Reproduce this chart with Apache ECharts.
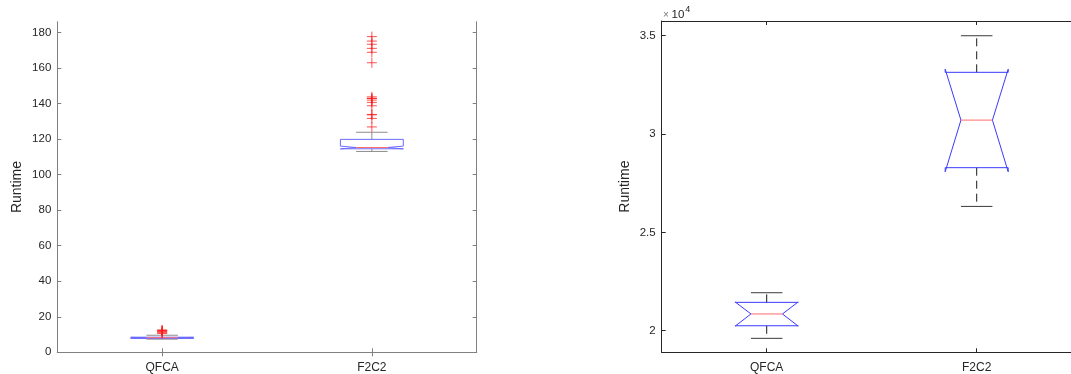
<!DOCTYPE html>
<html>
<head>
<meta charset="utf-8">
<script src="https://cdn.jsdelivr.net/npm/echarts@6/dist/echarts.min.js"></script>
<style>html,body{margin:0;padding:0;background:#fff;}#chart{width:1071px;height:374px;}</style>
</head>
<body>
<div id="chart"></div>
<script>
// ---- data ----
const categories = ['QFCA', 'F2C2'];
// box stats: [lowerWhisker, q1, notchLow, median, notchHigh, q3, upperWhisker]
const leftQFCA = [7.4, 7.8, 7.9, 8.2, 8.4, 8.5, 9.6];
const leftF2C2 = [113.0, 114.5, 114.4, 115.2, 116.0, 119.8, 123.8];
const leftQFCAOutliers = [12.6, 12.2, 12.1, 11.9, 11.5, 11.0, 10.6];
const leftF2C2Outliers = [177.6, 175.1, 173.3, 171.0, 168.8, 162.9, 143.7, 142.9, 142.8, 141.9, 140.6, 138.7, 133.8, 133.6, 131.6, 126.8];
const rightQFCA = [19610, 20250, 20230, 20850, 21460, 21440, 21930];
const rightF2C2 = [26320, 28290, 28080, 30710, 33300, 33140, 35000];
const leftTicks = [0, 20, 40, 60, 80, 100, 120, 140, 160, 180];
const rightTicks = [20000, 25000, 30000, 35000];

const FONT = 'Liberation Sans, Arial, Helvetica, sans-serif';

function makeRender(st) {
  return function (params, api) {
    const c = api.value(0);
    const v = [1, 2, 3, 4, 5, 6, 7].map(i => api.value(i));
    const [lw, q1, nlo, med, nhi, q3, uw] = v;
    const band = api.size([1, 0])[0];
    const hw = band * 0.15, nw = band * 0.075, cw = band * 0.075;
    const x = api.coord([c, med])[0];
    const Y = val => api.coord([c, val])[1];
    const xL = x - hw, xR = x + hw, xiL = x - nw, xiR = x + nw;
    const poly = [
      [xL, Y(q1)], [xL, Y(nlo)], [xiL, Y(med)], [xL, Y(nhi)], [xL, Y(q3)],
      [xR, Y(q3)], [xR, Y(nhi)], [xiR, Y(med)], [xR, Y(nlo)], [xR, Y(q1)]
    ];
    const wStyle = { stroke: st.whisker, lineWidth: 1, lineDash: st.dash };
    const capStyle = { stroke: st.cap, lineWidth: 1 };
    return {
      type: 'group',
      children: [
        { type: 'line', shape: { x1: x, y1: Y(q3), x2: x, y2: Y(uw) }, style: wStyle },
        { type: 'line', shape: { x1: x, y1: Y(q1), x2: x, y2: Y(lw) }, style: wStyle },
        { type: 'line', shape: { x1: x - cw, y1: Y(uw), x2: x + cw, y2: Y(uw) }, style: capStyle },
        { type: 'line', shape: { x1: x - cw, y1: Y(lw), x2: x + cw, y2: Y(lw) }, style: capStyle },
        { type: 'polygon', shape: { points: poly }, style: { fill: 'none', stroke: st.box, lineWidth: 1 } },
        { type: 'line', shape: { x1: xiL, y1: Y(med), x2: xiR, y2: Y(med) }, style: { stroke: st.median, lineWidth: 1 } }
      ]
    };
  };
}

function xAxes(grid, color, top) {
  return [{
    gridIndex: grid, type: 'category', data: categories, boundaryGap: true, position: 'bottom',
    axisLine: { show: true, lineStyle: { color: color } },
    axisTick: { show: true, inside: true, alignWithLabel: true, length: 4, lineStyle: { color: color } },
    axisLabel: { margin: 9, fontSize: 12, color: '#262626', fontFamily: FONT },
    splitLine: { show: false }
  }, {
    gridIndex: grid, type: 'category', data: categories, boundaryGap: true, position: 'top',
    axisLine: { show: true, lineStyle: { color: top } },
    axisTick: { show: true, inside: true, alignWithLabel: true, length: 4, lineStyle: { color: top } },
    axisLabel: { show: false }, splitLine: { show: false }
  }];
}

function yAxes(grid, color, min, max, ticks, fmt, gap) {
  return [{
    gridIndex: grid, type: 'value', min: min, max: max, position: 'left',
    name: 'Runtime', nameLocation: 'middle', nameGap: gap,
    nameTextStyle: { fontSize: 14, color: '#262626', fontFamily: FONT },
    axisLine: { show: true, lineStyle: { color: color } },
    axisTick: { show: true, inside: true, length: 4, customValues: ticks, lineStyle: { color: color } },
    axisLabel: { customValues: ticks, margin: 6, fontSize: 11.5, color: '#262626', fontFamily: FONT, formatter: fmt },
    splitLine: { show: false }
  }, {
    gridIndex: grid, type: 'value', min: min, max: max, position: 'right',
    axisLine: { show: true, lineStyle: { color: color } },
    axisTick: { show: true, inside: true, length: 4, customValues: ticks, lineStyle: { color: color } },
    axisLabel: { show: false }, splitLine: { show: false }
  }];
}

const chart = echarts.init(document.getElementById('chart'), null, { renderer: 'canvas' });
const leftStyle = { box: '#6a6aff', median: '#ff6a6a', whisker: '#8c8c8c', cap: '#8c8c8c', dash: [8, 5] };
const rightStyle = { box: '#3a3aff', median: '#ff6a6a', whisker: '#1a1a1a', cap: '#3a3a3a', dash: [8, 5] };
const plus = 'path://M0,5L10,5M5,0L5,10';

chart.setOption({
  animation: false,
  backgroundColor: '#ffffff',
  textStyle: { fontFamily: FONT },
  grid: [
    { left: 57.3, width: 419.4, top: 21.7, bottom: 21.7, outerBoundsMode: 'none', containLabel: false },
    { left: 661.7, width: 420, top: 21, bottom: 21.7, outerBoundsMode: 'none', containLabel: false }
  ],
  xAxis: [].concat(xAxes(0, '#808080', '#808080'), xAxes(1, '#262626', '#262626')),
  yAxis: [].concat(
    yAxes(0, '#808080', 0, 186, leftTicks, v => String(v), 33),
    yAxes(1, '#262626', 18900, 35750, rightTicks, v => String(v / 10000), 30)
  ),
  graphic: [
    { type: 'text', x: 663, y: 15.5, style: { text: '×', fontSize: 10, fontFamily: FONT, fill: '#777', align: 'left', verticalAlign: 'middle' } },
    { type: 'text', x: 671.5, y: 14.5, style: { text: '10', fontSize: 11.5, fontFamily: FONT, fill: '#262626', align: 'left', verticalAlign: 'middle' } },
    { type: 'text', x: 685.3, y: 9.5, style: { text: '4', fontSize: 9, fontFamily: FONT, fill: '#262626', align: 'left', verticalAlign: 'middle' } }
  ],
  series: [
    {
      type: 'custom', xAxisIndex: 0, yAxisIndex: 0,
      renderItem: makeRender(leftStyle),
      encode: { x: 0, y: [1, 2, 3, 4, 5, 6, 7] },
      data: [[0].concat(leftQFCA), [1].concat(leftF2C2)]
    },
    {
      type: 'scatter', xAxisIndex: 0, yAxisIndex: 0,
      symbol: plus, symbolSize: 10,
      itemStyle: { color: 'rgba(0,0,0,0)', borderColor: '#ff1a1a', borderWidth: 1, opacity: 0.75 },
      data: leftQFCAOutliers.map(v => [0, v]).concat(leftF2C2Outliers.map(v => [1, v]))
    },
    {
      type: 'custom', xAxisIndex: 2, yAxisIndex: 2,
      renderItem: makeRender(rightStyle),
      encode: { x: 0, y: [1, 2, 3, 4, 5, 6, 7] },
      data: [[0].concat(rightQFCA), [1].concat(rightF2C2)]
    }
  ]
});
</script>
</body>
</html>
